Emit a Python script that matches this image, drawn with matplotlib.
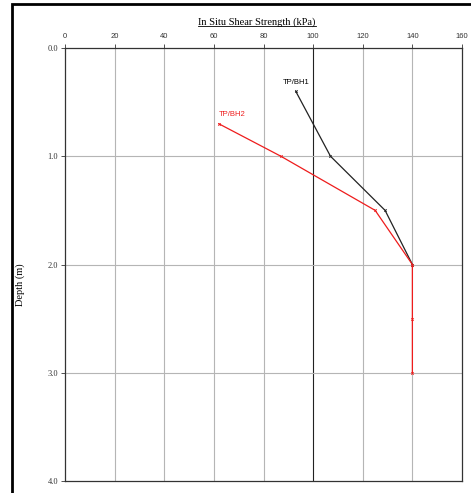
import matplotlib.pyplot as plt
from matplotlib.patches import Rectangle
from matplotlib.lines import Line2D

# --- # data
bh1_strength = [93, 107, 129, 140]
bh1_depth = [0.4, 1.0, 1.5, 2.0]
bh2_strength = [62, 87, 125, 140, 140, 140]
bh2_depth = [0.7, 1.0, 1.5, 2.0, 2.5, 3.0]
x_ticks = [0, 20, 40, 60, 80, 100, 120, 140, 160]
y_ticks = [0.0, 1.0, 2.0, 3.0, 4.0]

W, H = 471, 493
fig = plt.figure(figsize=(W / 100, H / 100), dpi=100)
ax = fig.add_axes([65 / W, 1 - 481 / H, (462 - 65) / W, (481 - 48) / H])

# --- # outer frame (open at the bottom and right, like a cropped page)
fig.patches.append(Rectangle((11.5 / W, -0.1), 1.2, 1.1 - 4 / H,
                             transform=fig.transFigure, fill=False,
                             edgecolor='black', linewidth=2, clip_on=False))

ax.set_xlim(0, 160)
ax.set_ylim(4.0, 0.0)
ax.set_xticks(x_ticks)
ax.set_yticks(y_ticks)
ax.xaxis.tick_top()
ax.tick_params(axis='x', labelsize=5.5, length=3, width=0.6, colors='#333333', pad=3)
ax.tick_params(axis='y', labelsize=6, length=3, width=0.6, colors='#333333', pad=2)
for lab in ax.get_xticklabels():
    lab.set_fontfamily('Liberation Sans')
ax.set_yticklabels(['%.1f' % v for v in y_ticks], fontfamily='Liberation Serif')

for x in x_ticks[1:-1]:
    ax.axvline(x, color='#222222' if x == 100 else '#b5b5b5', linewidth=0.8, zorder=1)
for y in y_ticks[1:-1]:
    ax.axhline(y, color='#b5b5b5', linewidth=0.8, zorder=1)
for s in ax.spines.values():
    s.set_color('#333333')
    s.set_linewidth(0.9)

ax.plot(bh1_strength, bh1_depth, color='#222222', linewidth=0.9, marker='x',
        markersize=1.8, markeredgewidth=0.6, zorder=3)
ax.plot(bh2_strength, bh2_depth, color='#ee1c1c', linewidth=0.9, marker='x',
        markersize=1.8, markeredgewidth=0.6, zorder=4)
ax.text(bh1_strength[0], bh1_depth[0] - 0.05, 'TP/BH1', ha='center', va='bottom',
        fontsize=5.5, fontfamily='Liberation Sans', color='black')
ax.text(bh2_strength[0], bh2_depth[0] - 0.05, 'TP/BH2', ha='left', va='bottom',
        fontsize=5.5, fontfamily='Liberation Sans', color='#ee1c1c')

ax.set_ylabel('Depth (m)', fontfamily='Liberation Serif', fontsize=7.5)
ax.yaxis.set_label_coords(-0.1, 0.453)

# --- # underlined title
title = fig.text(257 / W, 1 - 22 / H, 'In Situ Shear Strength (kPa)', ha='center',
                 va='center', fontsize=7.5, fontfamily='Liberation Serif')
fig.canvas.draw()
bb = title.get_window_extent().transformed(fig.transFigure.inverted())
fig.lines.append(Line2D([bb.x0, bb.x1], [bb.y0 + 0.002, bb.y0 + 0.002],
                        transform=fig.transFigure, color='black', linewidth=0.6))

fig.savefig('out.png', dpi=100)
